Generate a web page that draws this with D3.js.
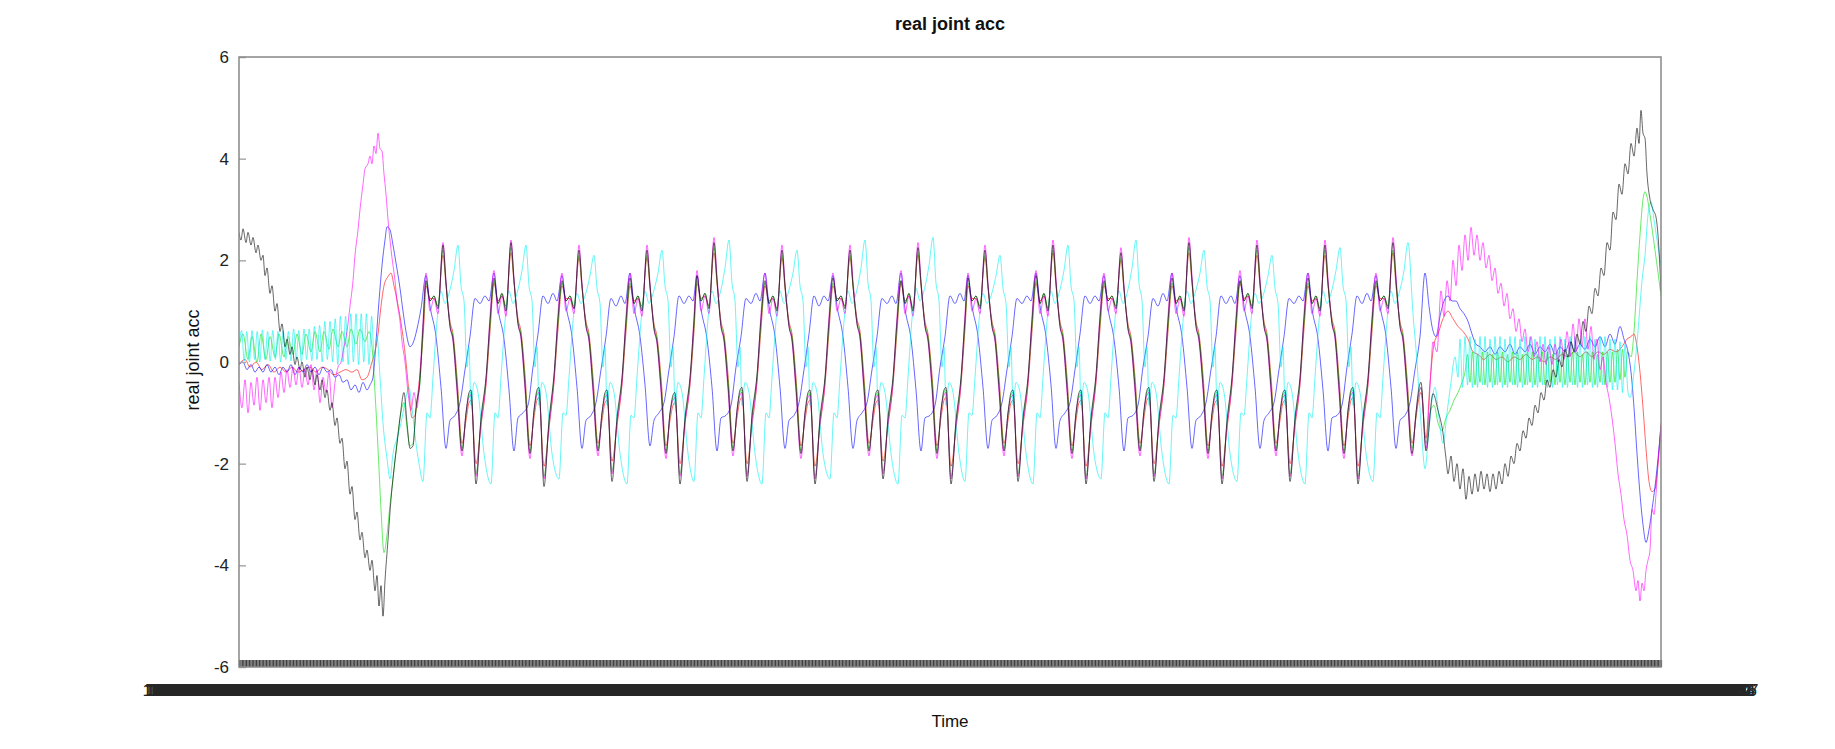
<!DOCTYPE html>
<html><head><meta charset="utf-8">
<script src="https://cdn.jsdelivr.net/npm/d3@7"></script>
<style>
body{margin:0;background:#fff;}
svg{display:block;}
text{font-family:"Liberation Sans",Arial,sans-serif;}
</style>
</head><body>
<svg id="chart" width="1835" height="749"></svg>
<script>
// ---------------- DATA (time in s, value = joint acceleration) ----------------
const seriesNames = ["joint1","joint2","joint3","joint4","joint5","joint6"];
const seriesColors = ["#ff0000","#00e000","#0000ff","#00f0f0","#ff00ff","#000000"];
const yTicks = [-6,-4,-2,0,2,4,6];
const timeDomain = [0, 142.2];
const epochStart = 1652245386;

// times of the main peaks of the periodic part
const peakTimes = [20.4,27.2,34.0,40.8,47.5,54.3,61.1,67.9,74.6,81.4,88.2,95.0,101.8,108.6,115.4];

// key-point offsets (s) inside each cycle
const groupOffsets = [-1.7,-1.3,-0.9,-0.5,0,0.3,0.7,1.0,1.4,1.9,2.3,2.6,2.8,3.3,3.8,4.3,4.7];
const blueOffsets  = [-1.7,-1.3,-0.7,-0.2,0.3,0.7,1.2,1.7,2.2,2.7,3.2,3.7,4.2,4.6];
const cyanOffsets  = [-2.0,-1.6,-1.3,-1.0,-0.6,-0.2,0.2,0.6,1.1,1.5,1.8,2.1,2.4,2.6,2.8,3.1,3.5,4.1];

// ---- red ----
const redStart = [[0,-0.05],[0.6,0.05],[1.1,-0.1],[1.7,0.0],[2.3,-0.15],[2.9,-0.05],[3.5,-0.2],[4.1,-0.1],[4.7,-0.2],[5.3,-0.1],[5.9,-0.2],[6.5,-0.15],[7.1,-0.1],[7.7,-0.2],[8.3,-0.1],[8.9,-0.15],[9.5,-0.25],[10.1,-0.2],[10.7,-0.15],[11.3,-0.2],[11.8,-0.15],[12.3,-0.35],[12.8,-0.3],[13.3,0.0],[13.6,0.2],[13.9,0.55],[14.2,1.1],[14.5,1.5],[14.9,1.68],[15.2,1.75],[15.5,1.5],[15.8,1.22],[16.1,0.9],[16.4,0.5],[16.7,0.0],[17.0,-0.6],[17.3,-1.1],[17.6,-1.05],[17.9,-0.6],[18.2,0.0],[18.5,0.8]];
const redCycles = [
[1.5,1.25,1.25,1.1,2.1,1.5,0.8,0.55,-0.3,-1.6,-1.15,-0.8,-0.75,-2.0,-1.25,-0.45,0.6],
[1.55,1.2,1.3,1.1,2.15,1.55,0.85,0.6,-0.25,-1.65,-1.1,-0.75,-0.7,-2.05,-1.3,-0.4,0.65],
[1.5,1.25,1.25,1.05,2.05,1.45,0.8,0.55,-0.3,-1.6,-1.15,-0.8,-0.75,-1.95,-1.25,-0.45,0.6],
[1.5,1.2,1.25,1.1,2.05,1.45,0.75,0.5,-0.3,-1.65,-1.15,-0.85,-0.8,-2.0,-1.2,-0.45,0.6],
[1.55,1.25,1.3,1.1,2.15,1.55,0.8,0.55,-0.25,-1.6,-1.1,-0.75,-0.7,-2.0,-1.25,-0.4,0.65],
[1.5,1.2,1.25,1.05,2.05,1.45,0.8,0.55,-0.3,-1.65,-1.15,-0.8,-0.75,-2.05,-1.25,-0.45,0.6],
[1.5,1.25,1.25,1.1,2.05,1.5,0.85,0.6,-0.3,-1.6,-1.15,-0.8,-0.75,-1.95,-1.25,-0.45,0.6],
[1.55,1.2,1.3,1.05,2.1,1.5,0.8,0.55,-0.25,-1.65,-1.1,-0.75,-0.7,-2.05,-1.3,-0.45,0.65],
[1.5,1.25,1.25,1.1,2.05,1.45,0.8,0.55,-0.3,-1.6,-1.15,-0.8,-0.75,-2.0,-1.25,-0.45,0.6],
[1.55,1.2,1.3,1.05,2.15,1.5,0.8,0.55,-0.3,-1.65,-1.15,-0.8,-0.75,-2.05,-1.25,-0.4,0.65],
[1.5,1.25,1.25,1.1,2.0,1.4,0.75,0.5,-0.3,-1.6,-1.1,-0.75,-0.7,-2.0,-1.25,-0.45,0.6],
[1.5,1.2,1.25,1.05,2.15,1.55,0.8,0.55,-0.25,-1.65,-1.15,-0.8,-0.75,-2.05,-1.3,-0.45,0.6],
[1.55,1.25,1.3,1.1,2.1,1.5,0.8,0.55,-0.3,-1.6,-1.15,-0.8,-0.75,-2.0,-1.25,-0.45,0.65],
[1.5,1.2,1.25,1.05,2.1,1.5,0.85,0.6,-0.3,-1.65,-1.1,-0.75,-0.7,-2.05,-1.25,-0.45,0.6],
[1.5,1.25,1.25,1.1,2.15,1.5,0.8,0.55,-0.3,-1.6,-1.1,-0.7,-0.6,-1.5]];
const redEnd = [[119.1,-0.4],[119.5,0.35],[119.9,0.55],[120.4,0.85],[120.9,1.0],[121.4,0.85],[121.9,0.7],[122.4,0.6],[122.9,0.45],[123.4,0.2],[123.9,0.15],[124.5,0.05],[125.1,0.15],[125.7,0.05],[126.3,0.1],[126.9,0.0],[127.5,0.1],[128.1,0.05],[128.7,0.15],[129.3,0.05],[129.9,0.1],[130.5,0.0],[131.1,0.1],[131.7,0.05],[132.3,0.15],[132.9,0.1],[133.5,0.2],[134.1,0.1],[134.7,0.2],[135.3,0.1],[135.9,0.2],[136.5,0.15],[137.1,0.25],[137.7,0.2],[138.3,0.3],[138.8,0.45],[139.2,0.5],[139.5,0.55],[139.8,0.3],[140.1,-0.2],[140.4,-0.9],[140.7,-1.7],[141.0,-2.35],[141.3,-2.55],[141.6,-2.5],[141.9,-2.0],[142.2,-1.2]];

// ---- green ----
const greenStart = [[0,0.3],[0.4,0.55],[0.9,0.05],[1.3,0.5],[1.8,0.0],[2.2,0.55],[2.7,0.05],[3.1,0.5],[3.6,0.1],[4.0,0.55],[4.5,0.1],[4.9,0.5],[5.4,0.15],[5.8,0.55],[6.3,0.15],[6.7,0.55],[7.2,0.2],[7.6,0.6],[8.1,0.2],[8.5,0.6],[9.0,0.25],[9.4,0.65],[9.9,0.3],[10.3,0.6],[10.8,0.3],[11.2,0.65],[11.7,0.35],[12.1,0.65],[12.6,0.4],[13.0,0.6],[13.3,0.3],[13.6,-0.6],[13.9,-1.7],[14.2,-2.9],[14.5,-3.75],[14.8,-3.4],[15.1,-2.8],[15.4,-2.3],[15.8,-1.6],[16.1,-1.1],[16.5,-0.8],[16.8,-1.3],[17.1,-1.65],[17.4,-1.6],[17.7,-0.95],[18.1,-0.4],[18.4,0.6]];
const greenCycles = [
[1.55,1.2,1.3,1.1,2.2,1.55,0.75,0.5,-0.4,-1.7,-1.05,-0.65,-0.6,-2.2,-1.15,-0.35,0.7],
[1.6,1.15,1.35,1.05,2.25,1.6,0.8,0.55,-0.35,-1.75,-1.0,-0.6,-0.55,-2.25,-1.2,-0.3,0.75],
[1.55,1.2,1.3,1.1,2.1,1.5,0.75,0.5,-0.4,-1.7,-1.05,-0.65,-0.6,-2.15,-1.15,-0.35,0.7],
[1.55,1.15,1.3,1.05,2.1,1.5,0.7,0.45,-0.4,-1.75,-1.05,-0.7,-0.65,-2.2,-1.15,-0.35,0.7],
[1.6,1.2,1.35,1.1,2.25,1.6,0.75,0.5,-0.35,-1.7,-1.0,-0.6,-0.55,-2.2,-1.1,-0.3,0.75],
[1.55,1.15,1.3,1.05,2.1,1.5,0.75,0.5,-0.4,-1.75,-1.05,-0.65,-0.6,-2.25,-1.15,-0.35,0.7],
[1.55,1.2,1.3,1.1,2.1,1.5,0.8,0.55,-0.4,-1.7,-1.05,-0.65,-0.6,-2.15,-1.15,-0.35,0.7],
[1.6,1.15,1.35,1.05,2.15,1.55,0.75,0.5,-0.35,-1.75,-1.0,-0.6,-0.55,-2.25,-1.2,-0.35,0.75],
[1.55,1.2,1.3,1.1,2.1,1.5,0.75,0.5,-0.4,-1.7,-1.05,-0.65,-0.6,-2.2,-1.15,-0.35,0.7],
[1.6,1.15,1.35,1.05,2.2,1.55,0.75,0.5,-0.4,-1.75,-1.05,-0.65,-0.6,-2.25,-1.15,-0.3,0.75],
[1.55,1.2,1.3,1.1,2.05,1.45,0.7,0.45,-0.4,-1.7,-1.0,-0.6,-0.55,-2.2,-1.15,-0.35,0.7],
[1.55,1.15,1.3,1.05,2.25,1.6,0.75,0.5,-0.35,-1.75,-1.05,-0.65,-0.6,-2.25,-1.2,-0.35,0.7],
[1.6,1.2,1.35,1.1,2.2,1.55,0.75,0.5,-0.4,-1.7,-1.05,-0.65,-0.6,-2.2,-1.15,-0.35,0.75],
[1.55,1.15,1.3,1.05,2.2,1.55,0.8,0.55,-0.4,-1.75,-1.0,-0.6,-0.55,-2.25,-1.15,-0.35,0.7],
[1.55,1.2,1.3,1.1,2.2,1.55,0.75,0.5,-0.4,-1.7,-1.05,-0.6,-0.5,-1.6]];
const greenEnd = [[119.1,-1.0],[119.5,-0.85],[119.9,-1.2],[120.3,-1.35],[120.7,-1.1],[121.1,-0.95],[121.5,-0.75],[121.9,-0.6],[122.3,-0.4],[122.6,-0.2],
[122.85,0.15],[123.1,-0.4],[123.35,0.2],[123.6,-0.45],[123.85,0.15],[124.1,-0.4],[124.35,0.2],[124.6,-0.45],[124.85,0.2],[125.1,-0.4],[125.35,0.15],[125.6,-0.45],[125.85,0.2],[126.1,-0.4],[126.35,0.2],[126.6,-0.45],[126.85,0.15],[127.1,-0.4],[127.35,0.2],[127.6,-0.45],[127.85,0.2],[128.1,-0.4],[128.35,0.15],[128.6,-0.45],[128.85,0.2],[129.1,-0.4],[129.35,0.2],[129.6,-0.45],[129.85,0.15],[130.1,-0.4],[130.35,0.2],[130.6,-0.45],[130.85,0.2],[131.1,-0.4],[131.35,0.15],[131.6,-0.45],[131.85,0.2],[132.1,-0.4],[132.35,0.2],[132.6,-0.45],[132.85,0.15],[133.1,-0.4],[133.35,0.2],[133.6,-0.45],[133.85,0.2],[134.1,-0.4],[134.35,0.15],[134.6,-0.45],[134.85,0.2],[135.1,-0.4],[135.35,0.2],[135.6,-0.45],[135.85,0.15],[136.1,-0.4],[136.35,0.2],[136.6,-0.45],[136.85,0.2],[137.1,-0.4],[137.35,0.2],[137.6,-0.4],[137.85,0.25],[138.1,-0.35],[138.35,0.25],[138.6,-0.3],[138.85,0.2],[139.2,0.1],[139.5,0.6],[139.8,1.6],[140.1,2.5],[140.4,3.2],[140.6,3.35],[140.8,3.25],[141.1,2.9],[141.6,2.2],[142.2,1.3]];

// ---- blue ----
const blueStart = [[0,-0.05],[0.4,0.0],[0.8,-0.15],[1.2,-0.05],[1.6,-0.2],[2.0,-0.1],[2.4,-0.2],[2.8,-0.05],[3.2,-0.2],[3.6,-0.1],[4.0,-0.25],[4.4,-0.1],[4.8,-0.2],[5.2,-0.05],[5.6,-0.25],[6.0,-0.1],[6.4,-0.2],[6.8,-0.05],[7.2,-0.2],[7.6,-0.1],[8.0,-0.25],[8.4,-0.1],[8.8,-0.2],[9.2,-0.15],[9.6,-0.3],[10.0,-0.25],[10.4,-0.4],[10.8,-0.35],[11.2,-0.55],[11.6,-0.45],[12.0,-0.6],[12.4,-0.4],[12.8,-0.55],[13.1,-0.45],[13.4,-0.3],[13.7,0.4],[14.0,1.2],[14.3,1.9],[14.6,2.4],[14.8,2.66],[15.1,2.6],[15.4,2.3],[15.7,1.95],[16.1,1.45],[16.4,1.0],[16.7,0.6],[17.1,0.3],[17.4,0.37],[17.8,0.65],[18.2,1.05]];
const blueCycles = [
[1.7,1.1,0.5,-0.5,-1.7,-1.15,-1.05,-0.8,-0.15,0.5,1.25,1.15,1.3,1.2],
[1.75,1.05,0.45,-0.55,-1.75,-1.1,-1.0,-0.85,-0.1,0.55,1.3,1.15,1.35,1.2],
[1.7,1.1,0.5,-0.5,-1.7,-1.15,-1.05,-0.8,-0.15,0.5,1.25,1.1,1.3,1.15],
[1.75,1.1,0.5,-0.45,-1.65,-1.15,-1.0,-0.8,-0.15,0.5,1.3,1.15,1.3,1.2],
[1.7,1.05,0.45,-0.5,-1.75,-1.1,-1.05,-0.85,-0.1,0.5,1.25,1.15,1.35,1.2],
[1.75,1.1,0.5,-0.5,-1.7,-1.15,-1.05,-0.8,-0.15,0.55,1.3,1.1,1.3,1.2],
[1.7,1.1,0.5,-0.5,-1.7,-1.15,-1.0,-0.8,-0.15,0.5,1.25,1.15,1.3,1.15],
[1.75,1.05,0.45,-0.55,-1.75,-1.1,-1.05,-0.85,-0.1,0.5,1.3,1.15,1.35,1.2],
[1.7,1.1,0.5,-0.5,-1.7,-1.15,-1.05,-0.8,-0.15,0.5,1.25,1.15,1.3,1.2],
[1.75,1.1,0.5,-0.45,-1.7,-1.15,-1.0,-0.8,-0.15,0.55,1.3,1.15,1.3,1.2],
[1.7,1.05,0.45,-0.5,-1.75,-1.1,-1.05,-0.85,-0.1,0.5,1.25,1.1,1.35,1.2],
[1.75,1.1,0.5,-0.5,-1.7,-1.15,-1.05,-0.8,-0.15,0.5,1.3,1.15,1.3,1.15],
[1.7,1.1,0.5,-0.5,-1.7,-1.15,-1.0,-0.8,-0.15,0.5,1.25,1.15,1.3,1.2],
[1.75,1.05,0.45,-0.55,-1.75,-1.1,-1.05,-0.85,-0.1,0.55,1.3,1.15,1.35,1.2],
[1.7,1.1,0.5,-0.5,-1.7,-1.15,-1.05,-0.8,-0.15,0.5,1.75]];
const blueEnd = [[119.0,1.1],[119.3,0.7],[119.7,0.5],[120.1,0.9],[120.5,1.2],[120.9,1.3],[121.3,1.2],[121.7,1.2],[122.1,1.05],[122.5,0.95],[122.9,0.8],[123.3,0.55],[123.7,0.35],[124.1,0.3],[124.6,0.2],[125.1,0.3],[125.6,0.15],[126.1,0.3],[126.6,0.2],[127.1,0.35],[127.6,0.15],[128.1,0.3],[128.6,0.2],[129.1,0.35],[129.6,0.15],[130.1,0.3],[130.6,0.2],[131.1,0.35],[131.6,0.15],[132.1,0.3],[132.6,0.2],[133.1,0.4],[133.6,0.2],[134.1,0.35],[134.6,0.25],[135.1,0.45],[135.6,0.3],[136.1,0.5],[136.6,0.3],[137.1,0.55],[137.6,0.35],[138.1,0.7],[138.5,0.45],[138.9,0.2],[139.2,-0.2],[139.5,-0.9],[139.8,-1.8],[140.1,-2.6],[140.4,-3.2],[140.7,-3.55],[141.0,-3.3],[141.3,-2.9],[141.6,-2.45],[141.9,-1.9],[142.2,-1.25]];

// ---- cyan ----
const cyanStart = [[0,0.3],[0.26,0.62],[0.52,0.02],[0.78,0.6],[1.04,0.0],[1.3,0.62],[1.56,0.05],[1.82,0.6],[2.08,0.0],[2.34,0.63],[2.6,0.05],[2.86,0.6],[3.12,0.02],[3.38,0.62],[3.64,0.05],[3.9,0.6],[4.16,0.0],[4.42,0.62],[4.68,0.05],[4.94,0.6],[5.2,0.02],[5.46,0.65],[5.72,0.05],[5.98,0.62],[6.24,0.0],[6.5,0.65],[6.76,0.05],[7.02,0.65],[7.28,0.02],[7.54,0.7],[7.8,0.05],[8.06,0.72],[8.32,0.0],[8.58,0.8],[8.84,0.05],[9.1,0.8],[9.36,0.0],[9.62,0.85],[9.88,-0.05],[10.14,0.9],[10.4,0.0],[10.66,0.9],[10.92,-0.05],[11.18,0.95],[11.44,0.0],[11.7,0.95],[11.96,-0.05],[12.22,0.95],[12.48,0.0],[12.74,0.95],[13.0,-0.05],[13.26,0.9],[13.52,0.1],[13.8,0.5],[14.1,-0.3],[14.4,-1.2],[14.8,-1.9],[15.1,-2.3],[15.4,-1.8],[15.8,-1.5],[16.2,-1.2],[16.6,-0.8],[17.0,-0.5],[17.3,-0.9],[17.7,-1.6],[18.0,-2.0]];
const cyanCycles = [
[-2.35,-1.0,-1.1,-0.3,0.8,1.4,1.15,1.35,1.8,2.3,1.5,1.2,-0.1,0.3,-0.85,-0.4,-0.6,-1.8],
[-2.4,-1.0,-1.1,-0.3,0.8,1.4,1.15,1.35,1.8,2.3,1.5,1.2,-0.1,0.3,-0.85,-0.4,-0.6,-1.8],
[-2.3,-1.0,-1.05,-0.3,0.8,1.35,1.15,1.3,1.7,2.1,1.45,1.15,-0.1,0.3,-0.85,-0.4,-0.6,-1.8],
[-2.4,-1.05,-1.1,-0.3,0.8,1.4,1.15,1.35,1.75,2.2,1.5,1.2,-0.1,0.3,-0.85,-0.4,-0.6,-1.8],
[-2.35,-1.0,-1.1,-0.3,0.85,1.4,1.15,1.35,1.85,2.4,1.55,1.2,-0.1,0.3,-0.85,-0.4,-0.6,-1.8],
[-2.4,-1.0,-1.1,-0.3,0.8,1.4,1.15,1.35,1.75,2.2,1.5,1.2,-0.1,0.3,-0.85,-0.4,-0.6,-1.8],
[-2.3,-1.0,-1.1,-0.3,0.8,1.4,1.15,1.35,1.85,2.4,1.55,1.2,-0.1,0.3,-0.85,-0.4,-0.6,-1.8],
[-2.4,-1.05,-1.1,-0.3,0.85,1.45,1.2,1.4,1.9,2.45,1.55,1.2,-0.1,0.3,-0.85,-0.4,-0.6,-1.8],
[-2.35,-1.0,-1.05,-0.3,0.8,1.35,1.15,1.3,1.7,2.1,1.45,1.15,-0.1,0.3,-0.85,-0.4,-0.6,-1.8],
[-2.4,-1.0,-1.1,-0.3,0.8,1.4,1.15,1.35,1.8,2.3,1.5,1.2,-0.1,0.3,-0.85,-0.4,-0.6,-1.8],
[-2.3,-1.0,-1.1,-0.3,0.85,1.4,1.15,1.35,1.85,2.4,1.55,1.2,-0.1,0.3,-0.85,-0.4,-0.6,-1.8],
[-2.4,-1.05,-1.1,-0.3,0.8,1.4,1.15,1.35,1.75,2.2,1.5,1.2,-0.1,0.3,-0.85,-0.4,-0.6,-1.8],
[-2.35,-1.0,-1.05,-0.3,0.8,1.35,1.15,1.3,1.7,2.1,1.45,1.15,-0.1,0.3,-0.85,-0.4,-0.6,-1.8],
[-2.4,-1.0,-1.1,-0.3,0.8,1.4,1.15,1.35,1.8,2.25,1.5,1.2,-0.1,0.3,-0.85,-0.4,-0.6,-1.8],
[-2.35,-1.0,-1.1,-0.3,0.8,1.4,1.15,1.35,1.8,2.35]];
const cyanEnd = [[117.4,0.95],[117.8,0.0],[118.2,-1.2],[118.6,-2.1],[119.0,-1.3],[119.3,-0.75],[119.6,-0.5],[120.0,-1.1],[120.4,-1.6],[120.8,-1.0],[121.2,-0.4],[121.6,0.1],[121.9,-0.3],
[122.1,0.45],[122.35,-0.5],[122.6,0.5],[122.85,-0.45],[123.1,0.5],[123.35,-0.5],[123.6,0.45],[123.85,-0.5],[124.1,0.5],[124.35,-0.45],[124.6,0.5],[124.85,-0.5],[125.1,0.45],[125.35,-0.5],[125.6,0.5],[125.85,-0.45],[126.1,0.5],[126.35,-0.5],[126.6,0.45],[126.85,-0.5],[127.1,0.5],[127.35,-0.45],[127.6,0.5],[127.85,-0.5],[128.1,0.45],[128.35,-0.5],[128.6,0.5],[128.85,-0.45],[129.1,0.5],[129.35,-0.5],[129.6,0.45],[129.85,-0.5],[130.1,0.5],[130.35,-0.45],[130.6,0.5],[130.85,-0.5],[131.1,0.45],[131.35,-0.5],[131.6,0.5],[131.85,-0.45],[132.1,0.5],[132.35,-0.5],[132.6,0.45],[132.85,-0.5],[133.1,0.5],[133.35,-0.45],[133.6,0.5],[133.85,-0.5],[134.1,0.45],[134.35,-0.5],[134.6,0.5],[134.85,-0.45],[135.1,0.5],[135.35,-0.5],[135.6,0.45],[135.85,-0.5],[136.1,0.5],[136.35,-0.45],[136.6,0.5],[136.85,-0.5],[137.1,0.45],[137.35,-0.55],[137.6,0.45],[137.85,-0.55],[138.1,0.4],[138.35,-0.6],[138.6,0.35],[138.9,-0.6],
[139.1,-0.7],[139.5,-0.2],[139.9,0.6],[140.3,1.6],[140.6,2.1],[140.9,2.9],[141.2,3.15],[141.5,2.8],[141.8,2.4],[142.2,1.9]];

// ---- magenta ----
const magentaStart = [[0,-0.4],[0.3,-0.9],[0.6,-0.35],[0.9,-1.0],[1.2,-0.4],[1.5,-0.85],[1.8,-0.3],[2.1,-0.95],[2.4,-0.35],[2.7,-0.8],[3.0,-0.3],[3.3,-0.9],[3.6,-0.3],[3.9,-0.7],[4.2,-0.2],[4.5,-0.6],[4.8,-0.15],[5.1,-0.5],[5.4,-0.1],[5.7,-0.45],[6.0,-0.1],[6.3,-0.5],[6.6,-0.15],[6.9,-0.45],[7.2,-0.05],[7.5,-0.55],[7.8,-0.15],[8.1,-0.8],[8.4,-0.3],[8.7,-0.6],[9.0,-0.2],[9.3,-0.9],[9.6,-0.4],[9.9,-0.1],[10.2,0.0],[10.5,0.3],[10.8,0.6],[11.1,1.1],[11.4,1.6],[11.6,2.1],[11.9,2.6],[12.1,3.0],[12.4,3.5],[12.6,3.8],[12.9,3.9],[13.1,4.05],[13.3,3.9],[13.5,4.25],[13.7,4.1],[13.9,4.5],[14.1,4.2],[14.3,4.15],[14.5,3.7],[14.7,3.3],[14.9,2.8],[15.1,2.4],[15.3,2.05],[15.6,1.6],[15.8,1.2],[16.1,0.8],[16.3,0.4],[16.6,0.0],[16.9,-0.6],[17.2,-0.95],[17.5,-0.6],[17.8,-0.9],[18.1,-0.2],[18.4,0.8]];
const magentaCycles = [
[1.75,1.0,1.25,0.95,2.35,1.6,0.7,0.4,-0.6,-1.85,-1.0,-0.7,-0.65,-2.25,-1.2,-0.4,0.9],
[1.8,0.95,1.3,0.9,2.4,1.65,0.75,0.45,-0.55,-1.9,-0.95,-0.65,-0.6,-2.3,-1.25,-0.35,0.95],
[1.75,1.0,1.25,0.95,2.3,1.55,0.7,0.4,-0.6,-1.85,-1.0,-0.7,-0.65,-2.2,-1.2,-0.4,0.9],
[1.75,0.95,1.25,0.9,2.3,1.55,0.65,0.35,-0.6,-1.9,-1.0,-0.75,-0.7,-2.25,-1.2,-0.4,0.9],
[1.8,1.0,1.3,0.95,2.45,1.7,0.7,0.4,-0.55,-1.85,-0.95,-0.65,-0.6,-2.25,-1.15,-0.35,0.95],
[1.75,0.95,1.25,0.9,2.3,1.55,0.7,0.4,-0.6,-1.9,-1.0,-0.7,-0.65,-2.3,-1.2,-0.4,0.9],
[1.75,1.0,1.25,0.95,2.3,1.6,0.75,0.45,-0.6,-1.85,-1.0,-0.7,-0.65,-2.2,-1.2,-0.4,0.9],
[1.8,0.95,1.3,0.9,2.35,1.6,0.7,0.4,-0.55,-1.9,-0.95,-0.65,-0.6,-2.3,-1.25,-0.4,0.95],
[1.75,1.0,1.25,0.95,2.3,1.55,0.7,0.4,-0.6,-1.85,-1.0,-0.7,-0.65,-2.25,-1.2,-0.4,0.9],
[1.8,0.95,1.3,0.9,2.4,1.65,0.7,0.4,-0.6,-1.9,-1.0,-0.7,-0.65,-2.3,-1.2,-0.35,0.95],
[1.75,1.0,1.25,0.95,2.25,1.5,0.65,0.35,-0.6,-1.85,-0.95,-0.65,-0.6,-2.25,-1.2,-0.4,0.9],
[1.75,0.95,1.25,0.9,2.45,1.7,0.7,0.4,-0.55,-1.9,-1.0,-0.7,-0.65,-2.3,-1.25,-0.4,0.9],
[1.8,1.0,1.3,0.95,2.4,1.65,0.7,0.4,-0.6,-1.85,-1.0,-0.7,-0.65,-2.25,-1.2,-0.4,0.95],
[1.75,0.95,1.25,0.9,2.4,1.65,0.75,0.45,-0.6,-1.9,-0.95,-0.65,-0.6,-2.3,-1.2,-0.4,0.9],
[1.75,1.0,1.25,0.95,2.45,1.7,0.7,0.4,-0.6,-1.85,-1.0,-0.6,-0.5,-1.7]];
const magentaEnd = [[119.1,-0.5],[119.4,0.4],[119.8,0.2],[120.2,1.4],[120.5,0.9],[120.8,1.6],[121.1,1.2],[121.4,2.0],[121.7,1.5],[122.0,2.3],[122.3,1.8],[122.6,2.5],[122.9,2.0],[123.2,2.65],[123.5,2.1],[123.8,2.5],[124.1,2.0],[124.4,2.35],[124.7,1.85],[125.0,2.1],[125.3,1.6],[125.6,1.85],[125.9,1.35],[126.2,1.55],[126.5,1.1],[126.8,1.35],[127.1,0.85],[127.4,1.05],[127.7,0.6],[128.0,0.85],[128.3,0.4],[128.6,0.65],[128.9,0.2],[129.2,0.5],[129.5,0.1],[129.8,0.4],[130.1,0.0],[130.4,0.35],[130.7,-0.05],[131.0,0.3],[131.3,-0.05],[131.6,0.35],[131.9,0.0],[132.2,0.45],[132.5,0.05],[132.8,0.6],[133.1,0.1],[133.4,0.75],[133.7,0.2],[134.0,0.85],[134.3,0.3],[134.6,0.85],[134.9,0.25],[135.2,0.7],[135.5,0.05],[135.8,0.45],[136.1,-0.15],[136.4,0.1],[136.7,-0.4],[137.0,-0.7],[137.3,-1.1],[137.6,-1.6],[137.9,-2.2],[138.2,-2.6],[138.5,-3.1],[138.8,-3.4],[139.1,-3.9],[139.4,-4.1],[139.7,-4.5],[139.9,-4.3],[140.1,-4.7],[140.3,-4.35],[140.5,-4.5],[140.7,-4.1],[140.9,-3.9],[141.1,-3.7],[141.3,-2.9],[141.5,-3.0],[141.7,-2.6],[141.9,-2.0],[142.2,-1.3]];

// ---- black ----
const blackStart = [[0,2.55],[0.2,2.4],[0.4,2.62],[0.7,2.35],[0.9,2.55],[1.2,2.3],[1.4,2.45],[1.7,2.15],[1.9,2.3],[2.2,2.0],[2.4,2.1],[2.6,1.7],[2.8,1.85],[3.1,1.35],[3.3,1.5],[3.6,1.0],[3.8,1.15],[4.1,0.6],[4.3,0.75],[4.6,0.3],[4.8,0.45],[5.1,0.15],[5.3,0.3],[5.6,-0.05],[5.8,0.1],[6.1,-0.15],[6.3,0.0],[6.6,-0.3],[6.8,-0.1],[7.1,-0.35],[7.3,-0.15],[7.6,-0.45],[7.8,-0.25],[8.1,-0.55],[8.3,-0.35],[8.6,-0.7],[8.8,-0.55],[9.1,-0.95],[9.3,-0.8],[9.6,-1.25],[9.8,-1.1],[10.1,-1.6],[10.3,-1.5],[10.6,-2.1],[10.8,-1.95],[11.1,-2.6],[11.3,-2.45],[11.6,-3.1],[11.8,-2.95],[12.1,-3.5],[12.3,-3.35],[12.6,-3.85],[12.8,-3.7],[13.1,-4.1],[13.3,-3.9],[13.6,-4.5],[13.8,-4.2],[14.0,-4.8],[14.2,-4.4],[14.4,-5.0],[14.6,-4.3],[14.9,-3.5],[15.2,-2.7],[15.5,-2.1],[15.8,-1.6],[16.1,-1.1],[16.5,-0.6],[16.8,-1.2],[17.1,-1.7],[17.4,-1.65],[17.7,-0.9],[18.1,-0.35],[18.4,0.7]];
const blackCycles = [
[1.6,1.2,1.3,1.05,2.3,1.55,0.7,0.45,-0.5,-1.75,-1.0,-0.6,-0.55,-2.4,-1.1,-0.3,0.8],
[1.65,1.15,1.35,1.0,2.35,1.6,0.75,0.5,-0.45,-1.8,-0.95,-0.55,-0.5,-2.45,-1.15,-0.25,0.85],
[1.6,1.2,1.3,1.05,2.2,1.5,0.7,0.45,-0.5,-1.75,-1.0,-0.6,-0.55,-2.35,-1.1,-0.3,0.8],
[1.65,1.15,1.3,1.0,2.2,1.5,0.65,0.4,-0.5,-1.8,-1.0,-0.65,-0.6,-2.4,-1.1,-0.3,0.8],
[1.7,1.2,1.35,1.05,2.35,1.6,0.7,0.45,-0.45,-1.75,-0.95,-0.55,-0.5,-2.35,-1.05,-0.25,0.85],
[1.6,1.15,1.3,1.0,2.2,1.5,0.7,0.45,-0.5,-1.8,-1.0,-0.6,-0.55,-2.4,-1.1,-0.3,0.8],
[1.65,1.2,1.3,1.05,2.2,1.5,0.75,0.5,-0.5,-1.75,-1.0,-0.6,-0.55,-2.3,-1.1,-0.3,0.8],
[1.6,1.15,1.35,1.0,2.25,1.55,0.7,0.45,-0.45,-1.8,-0.95,-0.55,-0.5,-2.4,-1.15,-0.3,0.85],
[1.65,1.2,1.3,1.05,2.2,1.5,0.7,0.45,-0.5,-1.75,-1.0,-0.6,-0.55,-2.35,-1.1,-0.3,0.8],
[1.7,1.15,1.35,1.0,2.3,1.55,0.7,0.45,-0.5,-1.8,-1.0,-0.6,-0.55,-2.4,-1.1,-0.25,0.85],
[1.6,1.2,1.3,1.05,2.15,1.45,0.65,0.4,-0.5,-1.75,-0.95,-0.55,-0.5,-2.35,-1.1,-0.3,0.8],
[1.65,1.15,1.3,1.0,2.35,1.6,0.7,0.45,-0.45,-1.8,-1.0,-0.6,-0.55,-2.4,-1.15,-0.3,0.8],
[1.6,1.2,1.35,1.05,2.3,1.55,0.7,0.45,-0.5,-1.75,-1.0,-0.6,-0.55,-2.35,-1.1,-0.3,0.85],
[1.65,1.15,1.3,1.0,2.3,1.55,0.75,0.5,-0.5,-1.8,-0.95,-0.55,-0.5,-2.4,-1.1,-0.3,0.8],
[1.6,1.2,1.3,1.05,2.35,1.6,0.7,0.45,-0.5,-1.8,-1.0,-0.5,-0.4,-1.75]];
const blackEnd = [[119.4,-0.62],[119.9,-0.95],[120.4,-1.4],[120.7,-1.9],[120.9,-2.2],[121.2,-1.85],[121.5,-2.35],[121.8,-2.0],[122.1,-2.5],[122.4,-2.1],[122.7,-2.7],[123.0,-2.25],[123.3,-2.6],[123.6,-2.2],[123.9,-2.55],[124.2,-2.15],[124.5,-2.5],[124.8,-2.2],[125.1,-2.55],[125.4,-2.2],[125.7,-2.5],[126.0,-2.15],[126.3,-2.4],[126.6,-2.0],[126.9,-2.25],[127.2,-1.85],[127.5,-2.0],[127.8,-1.6],[128.1,-1.75],[128.4,-1.35],[128.7,-1.5],[129.0,-1.1],[129.3,-1.25],[129.6,-0.85],[129.9,-1.0],[130.2,-0.6],[130.5,-0.75],[130.8,-0.35],[131.1,-0.5],[131.4,-0.15],[131.7,-0.3],[132.0,0.05],[132.3,-0.1],[132.6,0.25],[132.9,0.1],[133.2,0.4],[133.5,0.2],[133.8,0.55],[134.1,0.35],[134.4,0.8],[134.7,0.6],[135.0,1.1],[135.3,0.95],[135.6,1.45],[135.9,1.3],[136.2,1.85],[136.5,1.7],[136.8,2.35],[137.1,2.2],[137.4,2.95],[137.7,2.8],[138.0,3.5],[138.3,3.3],[138.6,3.9],[138.9,3.7],[139.2,4.3],[139.5,4.05],[139.8,4.6],[140.0,4.3],[140.2,4.95],[140.4,4.5],[140.6,4.4],[140.8,3.7],[141.1,3.2],[141.4,3.0],[141.7,2.85],[141.9,2.5],[142.2,1.4]];

// ---------------- BUILD ----------------
function build(start, offsets, rows, end) {
  const pts = start.map(([t, v]) => ({t, v}));
  rows.forEach((row, i) => row.forEach((v, j) => pts.push({t: peakTimes[i] + offsets[j], v})));
  end.forEach(([t, v]) => pts.push({t, v}));
  return pts.sort((a, b) => a.t - b.t);
}
const series = [
  build(redStart, groupOffsets, redCycles, redEnd),
  build(greenStart, groupOffsets, greenCycles, greenEnd),
  build(blueStart, blueOffsets, blueCycles, blueEnd),
  build(cyanStart, cyanOffsets, cyanCycles, cyanEnd),
  build(magentaStart, groupOffsets, magentaCycles, magentaEnd),
  build(blackStart, groupOffsets, blackCycles, blackEnd)
];

// ---------------- DRAW ----------------
const m = {left: 239, right: 1661, top: 57, bottom: 667};
const svg = d3.select("#chart");
const x = d3.scaleLinear().domain(timeDomain).range([m.left, m.right]);
const y = d3.scaleLinear().domain([-6, 6]).range([m.bottom, m.top]);

svg.append("defs").append("clipPath").attr("id", "clip")
  .append("rect").attr("x", m.left).attr("y", m.top)
  .attr("width", m.right - m.left).attr("height", m.bottom - m.top);

const line = d3.line().curve(d3.curveMonotoneX).x(d => x(d.t)).y(d => y(d.v));
svg.append("g").attr("clip-path", "url(#clip)")
  .selectAll("path").data(series).join("path")
  .attr("d", line).attr("fill", "none")
  .attr("stroke", (d, i) => seriesColors[i])
  .attr("stroke-opacity", 0.6)
  .attr("stroke-width", 1);

// x axis: one tick per recorded sample time
const xTickValues = d3.range(0, 1001).map(i => i * 0.1422);
const xTickLabels = xTickValues.map(t => (epochStart + t).toFixed(10));
const xAxis = d3.axisBottom(x).tickValues(xTickValues)
  .tickFormat((d, i) => xTickLabels[i])
  .tickSizeInner(-7).tickSizeOuter(0).tickPadding(17);
const gx = svg.append("g").attr("transform", `translate(0,${m.bottom})`).call(xAxis);
gx.select(".domain").remove();
gx.selectAll(".tick line").attr("stroke", "#111").attr("stroke-opacity", 0.8).attr("stroke-width", 1.2);
gx.selectAll(".tick text").attr("fill", "#262626").style("font-size", "17px");

// y axis
const yAxis = d3.axisLeft(y).tickValues(yTicks).tickFormat(d => String(d))
  .tickSizeInner(-7).tickSizeOuter(0).tickPadding(10);
const gy = svg.append("g").attr("transform", `translate(${m.left},0)`).call(yAxis);
gy.select(".domain").remove();
gy.selectAll(".tick line").attr("stroke", "#aaaaaa").attr("stroke-width", 1.5);
gy.selectAll(".tick text").attr("fill", "#222").style("font-size", "17px");

// frame
svg.append("rect").attr("x", m.left).attr("y", m.top)
  .attr("width", m.right - m.left).attr("height", m.bottom - m.top)
  .attr("fill", "none").attr("stroke", "#888").attr("stroke-width", 1.5);

// titles
svg.append("text").attr("x", 950).attr("y", 30).attr("text-anchor", "middle")
  .style("font-size", "18px").style("font-weight", "bold").attr("fill", "#111")
  .text("real joint acc");
svg.append("text").attr("transform", "translate(199,360) rotate(-90)")
  .attr("text-anchor", "middle").style("font-size", "18px").attr("fill", "#111")
  .text("real joint acc");
svg.append("text").attr("x", 950).attr("y", 727).attr("text-anchor", "middle")
  .style("font-size", "17px").attr("fill", "#111").text("Time");
</script>
</body></html>
